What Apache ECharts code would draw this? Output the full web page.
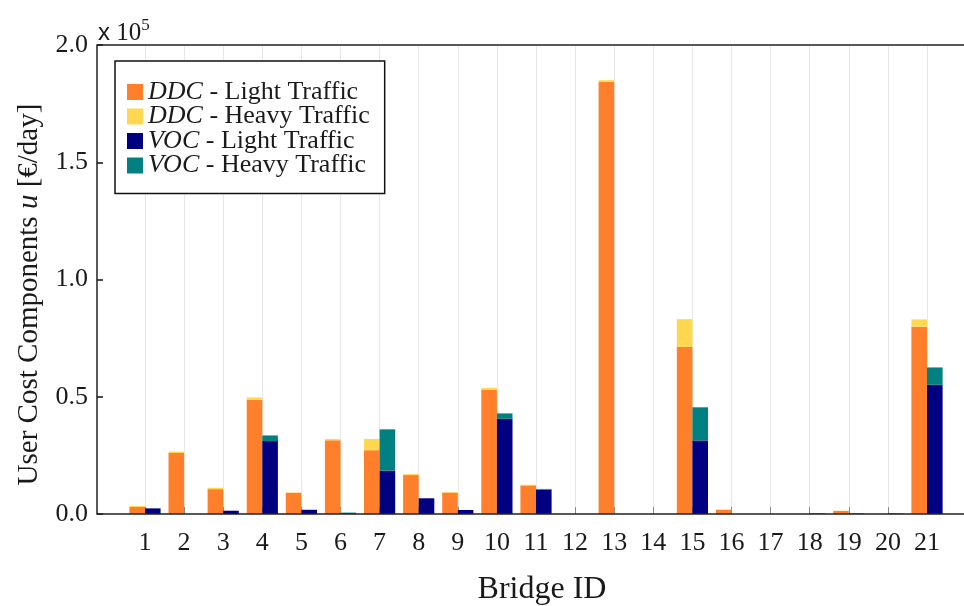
<!DOCTYPE html>
<html>
<head>
<meta charset="utf-8">
<script src="https://cdn.jsdelivr.net/npm/echarts@6/dist/echarts.min.js"></script>
<style>
  html, body { margin: 0; padding: 0; background: #fff; }
  #chart { width: 964px; height: 606px; }
</style>
</head>
<body>
<div id="chart"></div>
<script>
// Bridge identifiers on the horizontal axis
const bridgeIds = ['1','2','3','4','5','6','7','8','9','10','11','12','13','14','15','16','17','18','19','20','21'];

// Daily user cost components per bridge [€/day]
const ddcLight = [3000, 26000, 10600, 48600, 9000, 31400, 27200, 16600, 9100, 53000, 12200, 0, 184300, 0, 71300, 1800, 0, 0, 1300, 0, 79900];
const ddcHeavy = [400, 600, 600, 1100, 200, 600, 4800, 400, 300, 800, 300, 0, 700, 0, 11800, 100, 0, 0, 100, 0, 3100];
const vocLight = [2400, 0, 1400, 31100, 1800, 0, 18500, 6700, 1700, 40600, 10400, 0, 0, 0, 31300, 0, 0, 200, 200, 200, 55100];
const vocHeavy = [0, 0, 0, 2400, 0, 600, 17600, 0, 0, 2300, 300, 0, 0, 0, 14200, 0, 0, 0, 0, 0, 7400];

// Value-axis ticks (labels in units of 10^5 €/day)
const yTickScale = 1e5;
const yMax = 200000;
const yStep = 50000;

const SERIF = '"Liberation Serif", "Times New Roman", serif';
const SANS = '"Liberation Sans", Arial, sans-serif';
const INK = '#1a1a1a';

const chart = echarts.init(document.getElementById('chart'), null, { renderer: 'canvas' });

function barSeries(name, stack, data, color) {
  return {
    name: name,
    type: 'bar',
    stack: stack,
    data: data,
    barWidth: 15.6,
    barGap: '0%',
    clip: false,
    itemStyle: { color: color },
    emphasis: { disabled: true }
  };
}

const legendRich = {
  i: { fontFamily: SERIF, fontSize: 26, fontStyle: 'italic', color: INK, lineHeight: 24 },
  n: { fontFamily: SERIF, fontSize: 26, color: INK, lineHeight: 24 }
};

chart.setOption({
  animation: false,
  backgroundColor: '#fff',
  title: {
    text: '{x|x} 10{s|5}',
    left: 98,
    top: 17,
    padding: 0,
    textStyle: {
      fontFamily: SERIF, fontSize: 25, fontWeight: 'normal', color: INK,
      lineHeight: 32,
      rich: {
        x: { fontFamily: SANS, fontSize: 24, color: INK, lineHeight: 32 },
        s: { fontFamily: SERIF, fontSize: 17, color: INK, verticalAlign: 'top', lineHeight: 17 }
      }
    }
  },
  legend: {
    orient: 'vertical',
    left: 115,
    top: 61,
    padding: [18, 15, 15, 12],
    itemGap: -1.5,
    itemWidth: 16,
    itemHeight: 16,
    icon: 'rect',
    selectedMode: false,
    borderColor: '#111',
    borderWidth: 1.5,
    borderRadius: 0,
    backgroundColor: '#fff',
    data: ['DDC|Light Traffic', 'DDC|Heavy Traffic', 'VOC|Light Traffic', 'VOC|Heavy Traffic'],
    formatter: function (name) {
      const parts = name.split('|');
      return '{i|' + parts[0] + '}{n| - ' + parts[1] + '}';
    },
    textStyle: { fontFamily: SERIF, fontSize: 26, color: INK, rich: legendRich }
  },
  grid: [
    { left: 145, right: 37, top: 45, bottom: 92, containLabel: false, outerBoundsMode: 'none' },
    { left: 97, right: -3, top: 45, bottom: 92, outerBoundsMode: 'none', show: true, borderColor: '#222', borderWidth: 1.5, backgroundColor: 'transparent', z: 5 }
  ],
  xAxis: [
    {
      type: 'category',
      gridIndex: 0,
      data: bridgeIds,
      boundaryGap: false,
      axisLine: { show: false },
      axisTick: { show: true, inside: true, length: 7, lineStyle: { color: '#888', width: 1 } },
      axisLabel: { fontFamily: SERIF, fontSize: 26, color: INK, margin: 16 },
      splitLine: { show: true, lineStyle: { color: '#e8e8e8', width: 1 } },
      name: 'Bridge ID',
      nameLocation: 'middle',
      nameGap: 60,
      nameTextStyle: { fontFamily: SERIF, fontSize: 32, color: INK, padding: [0, 0, 0, 12] }
    },
    { type: 'value', gridIndex: 1, show: false }
  ],
  yAxis: [
    {
      type: 'value',
      gridIndex: 0,
      min: 0,
      max: yMax,
      interval: yStep,
      offset: 48,
      axisLine: { show: false },
      axisTick: { show: true, inside: true, length: 6, lineStyle: { color: '#111', width: 1.5 } },
      axisLabel: {
        fontFamily: SERIF, fontSize: 26, color: INK, margin: 9,
        formatter: function (v) { return (v / yTickScale).toFixed(1); }
      },
      splitLine: { show: false },
      name: '{n|User Cost Components }{i|u}{n| [€/day]}',
      nameLocation: 'middle',
      nameGap: 53,
      nameTextStyle: {
        fontFamily: SERIF, fontSize: 29, color: INK,
        padding: [0, 30, 0, 0],
        rich: {
          n: { fontFamily: SERIF, fontSize: 29, color: INK },
          i: { fontFamily: SERIF, fontSize: 29, color: INK, fontStyle: 'italic' }
        }
      }
    },
    { type: 'value', gridIndex: 1, show: false }
  ],
  series: [
    barSeries('DDC|Light Traffic', 'ddc', ddcLight, '#ff7f2a'),
    barSeries('DDC|Heavy Traffic', 'ddc', ddcHeavy, '#ffd84f'),
    barSeries('VOC|Light Traffic', 'voc', vocLight, '#000080'),
    barSeries('VOC|Heavy Traffic', 'voc', vocHeavy, '#008080')
  ]
});
</script>
</body>
</html>
